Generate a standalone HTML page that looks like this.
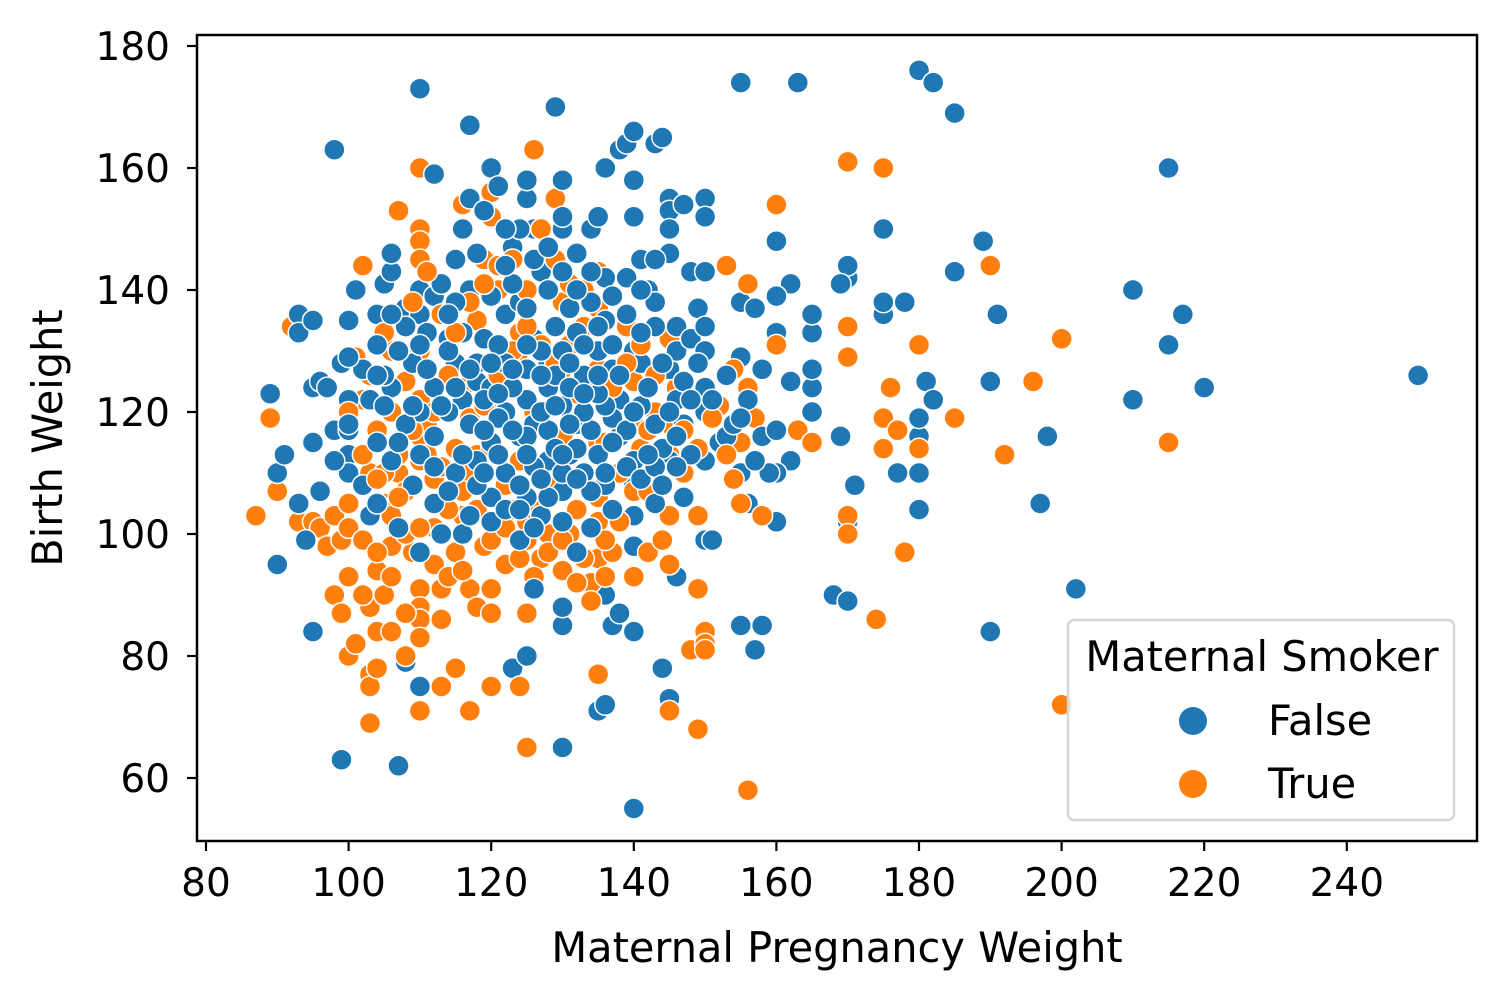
<!DOCTYPE html>
<html><head><meta charset="utf-8"><style>
html,body{margin:0;padding:0;background:#fff;}
svg{display:block;font-family:"DejaVu Sans","Liberation Sans",sans-serif;}
</style></head><body>
<svg id="chart" width="1506" height="1002" viewBox="0 0 1506 1002">
<rect x="0" y="0" width="1506" height="1002" fill="#fff"/>
<g id="points"></g>
<rect x="197" y="35" width="1280" height="806" fill="none" stroke="#000" stroke-width="2.5"/>
<g id="xticks"></g>
<g id="yticks"></g>
<text x="837" y="962" font-size="41.5" text-anchor="middle">Maternal Pregnancy Weight</text>
<text x="62" y="438" font-size="41.5" text-anchor="middle" transform="rotate(-90 62 438)">Birth Weight</text>
<g>
<rect x="1068" y="620" width="386" height="200" rx="6" fill="#fff" fill-opacity="0.8" stroke="#d6d6d6" stroke-width="2.5"/>
<text x="1262" y="671" font-size="41.5" text-anchor="middle">Maternal Smoker</text>
<g>
<circle cx="1193" cy="721" r="14" fill="#1f77b4"/>
<text x="1268" y="735" font-size="41.5">False</text></g>
<g>
<circle cx="1193" cy="784" r="14" fill="#ff7f0e"/>
<text x="1268" y="798" font-size="41.5">True</text></g>
</g>
</svg>
<script>
const xTicks=[80,100,120,140,160,180,200,220,240];
const yTicks=[60,80,100,120,140,160,180];
const falsePoints=[[110,173],[98,163],[129,170],[117,167],[155,174],[163,174],[180,176],[182,174],[185,169],[215,160],[175,150],[189,148],[185,143],[210,140],[217,136],[191,136],[215,131],[250,126],[220,124],[190,125],[181,125],[182,122],[210,122],[198,116],[197,105],[180,104],[202,91],[190,84],[168,90],[170,89],[170,102],[171,108],[177,110],[180,110],[180,116],[180,119],[175,136],[175,138],[178,138],[170,142],[170,144],[169,141],[169,116],[165,120],[165,124],[165,127],[165,133],[165,136],[162,141],[162,125],[162,112],[160,102],[160,110],[160,139],[160,148],[160,133],[158,127],[158,85],[157,81],[155,85],[155,110],[155,129],[155,138],[156,105],[144,78],[145,73],[135,71],[136,72],[140,55],[130,65],[107,62],[99,63],[90,95],[95,84],[108,79],[110,75],[123,78],[125,80],[130,85],[130,88],[136,90],[137,85],[138,87],[140,84],[146,93],[147,106],[140,98],[140,103],[140,108],[89,123],[90,110],[91,113],[93,105],[94,99],[93,136],[93,133],[95,135],[95,124],[96,125],[95,115],[98,117],[96,107],[100,135],[99,128],[100,122],[100,117],[100,113],[100,110],[102,108],[103,103],[101,140],[104,136],[105,141],[106,143],[106,146],[108,137],[110,140],[110,136],[112,139],[114,132],[115,128],[116,122],[118,125],[112,159],[117,155],[119,153],[120,160],[121,157],[123,147],[125,155],[125,158],[126,150],[127,143],[130,158],[130,150],[130,152],[132,146],[134,150],[135,152],[136,160],[138,163],[139,164],[140,166],[140,158],[140,152],[141,145],[142,140],[143,164],[144,165],[145,155],[145,153],[145,150],[145,146],[147,154],[148,143],[150,155],[150,152],[150,143],[149,137],[150,124],[150,120],[150,112],[150,99],[151,99],[152,115],[153,116],[154,118],[156,122],[157,137],[158,116],[159,110],[160,117],[120,139],[122,136],[124,138],[126,132],[128,128],[128,124],[130,121],[132,118],[134,125],[135,130],[137,127],[138,122],[140,130],[141,128],[143,134],[145,127],[146,130],[146,122],[147,118],[145,112],[143,105],[140,112],[138,116],[135,113],[133,110],[130,107],[128,112],[126,118],[124,116],[122,120],[120,124],[118,128],[116,133],[114,130],[112,124],[110,120],[108,118],[106,124],[104,115],[106,112],[109,108],[112,105],[115,110],[118,112],[120,115],[122,110],[125,106],[127,103],[130,102],[132,97],[134,101],[137,104],[136,108],[131,113],[128,117],[125,122],[122,128],[119,132],[117,140],[115,145],[113,141],[111,133],[109,128],[107,130],[105,126],[103,122],[100,118],[98,112],[120,106],[124,99],[126,91],[116,100],[113,100],[110,97],[107,101],[104,105],[130,130],[132,133],[134,138],[136,142],[131,137],[127,130],[125,127],[129,134],[133,126],[137,119],[139,117],[141,121],[143,118],[144,114],[146,116],[148,113],[125,137],[123,141],[121,131],[119,122],[117,118],[115,138],[112,116],[114,120],[116,113],[118,108],[120,102],[122,104],[124,108],[126,111],[128,106],[130,110],[132,114],[134,117],[136,121],[138,126],[140,120],[142,124],[144,128],[146,134],[148,132],[150,130],[121,119],[123,124],[125,116],[127,120],[129,126],[131,124],[133,120],[135,123],[137,131],[139,136],[141,133],[143,138],[136,135],[134,143],[132,140],[128,140],[126,145],[124,150],[122,144],[118,146],[116,150],[114,136],[110,131],[108,134],[106,136],[104,131],[102,127],[104,126],[110,113],[112,111],[114,107],[117,103],[119,110],[121,113],[123,117],[125,113],[127,109],[129,114],[131,118],[133,123],[135,126],[137,115],[139,111],[141,109],[143,111],[145,120],[147,125],[149,128],[151,122],[153,126],[155,119],[157,112],[105,121],[107,115],[109,121],[111,127],[113,121],[115,124],[117,127],[119,117],[121,123],[123,127],[125,131],[127,126],[129,121],[131,128],[133,131],[135,134],[137,139],[139,142],[141,140],[143,145],[100,129],[97,124],[120,128],[130,143],[128,147],[122,150],[136,110],[134,107],[132,109],[130,113],[126,101],[124,104],[150,134],[148,122],[146,111],[144,108],[142,113]];
const truePoints=[[87,103],[89,119],[90,107],[92,134],[93,102],[95,102],[96,101],[97,98],[98,103],[99,99],[98,90],[99,87],[100,80],[100,93],[100,105],[101,82],[101,129],[102,122],[102,144],[103,110],[103,88],[103,77],[103,75],[103,69],[104,84],[104,94],[104,104],[105,90],[105,105],[106,98],[106,130],[107,153],[107,110],[108,107],[109,97],[110,160],[110,150],[110,148],[110,145],[110,130],[110,122],[110,116],[110,112],[110,91],[110,88],[110,86],[110,83],[110,71],[111,118],[112,109],[113,91],[113,86],[113,75],[114,131],[115,97],[115,78],[116,154],[116,124],[117,71],[117,91],[117,110],[118,88],[118,113],[119,145],[120,156],[120,152],[120,114],[120,91],[120,87],[120,75],[121,120],[122,108],[123,104],[124,133],[124,130],[125,99],[125,102],[125,87],[125,65],[124,75],[126,163],[127,126],[127,96],[128,100],[129,155],[130,138],[130,127],[130,116],[130,112],[130,94],[131,100],[132,123],[133,140],[134,92],[135,143],[135,127],[135,115],[135,106],[135,102],[135,96],[135,77],[136,115],[137,97],[138,122],[139,134],[140,107],[140,118],[140,125],[141,114],[142,117],[143,120],[144,113],[145,132],[145,118],[145,113],[145,103],[145,95],[145,71],[146,124],[147,110],[148,81],[149,103],[149,91],[149,68],[150,84],[150,82],[150,81],[150,130],[150,120],[152,121],[153,144],[154,127],[154,109],[155,115],[155,105],[156,124],[156,141],[156,58],[157,119],[158,103],[160,154],[160,131],[163,117],[165,115],[170,161],[170,134],[170,129],[170,103],[170,100],[174,86],[175,160],[175,119],[175,114],[176,124],[177,117],[178,97],[180,131],[180,114],[185,119],[190,144],[192,113],[196,125],[200,132],[200,72],[215,115],[127,150],[123,145],[121,140],[118,135],[114,126],[112,120],[108,125],[106,120],[104,117],[102,113],[100,120],[124,112],[128,108],[132,104],[126,120],[138,110],[142,107],[116,103],[119,98],[122,95],[100,101],[102,99],[104,97],[106,103],[108,100],[112,101],[114,104],[116,107],[118,104],[120,99],[122,101],[126,104],[128,97],[130,99],[133,96],[136,99],[138,102],[105,110],[107,113],[109,117],[111,113],[113,111],[115,114],[117,119],[119,121],[121,126],[123,130],[125,134],[127,131],[129,128],[131,131],[133,134],[135,137],[137,124],[139,128],[141,131],[143,126],[147,117],[149,114],[151,119],[153,113],[112,95],[114,93],[116,94],[124,96],[126,93],[132,92],[134,89],[136,93],[140,93],[142,97],[144,99],[108,87],[106,93],[110,101],[104,109],[107,106],[103,126],[105,133],[109,138],[111,143],[113,136],[115,133],[117,138],[119,141],[121,144],[125,140],[129,145],[131,141],[106,84],[108,80],[102,90],[104,78]];
const X=v=>206+(v-80)*7.13;
const Y=v=>46+(180-v)*6.1;
const NS='http://www.w3.org/2000/svg';
const pts=document.getElementById('points');
function dot(p,c,nm){
 const el=document.createElementNS(NS,'circle');
 el.setAttribute('cx',X(p[0]));el.setAttribute('cy',Y(p[1]));el.setAttribute('r',10.5);
 el.setAttribute('fill',c);el.setAttribute('stroke','#fff');el.setAttribute('stroke-width',1.5);
 
 
 pts.appendChild(el);
}
const n=Math.max(falsePoints.length,truePoints.length);
for(let i=0;i<n;i++){
 if(i<falsePoints.length) dot(falsePoints[i],'#1f77b4','point-nonsmoker');
 if(i<truePoints.length) dot(truePoints[i],'#ff7f0e','point-smoker');
}
const xg=document.getElementById('xticks');
xTicks.forEach(t=>{
 const l=document.createElementNS(NS,'line');
 l.setAttribute('x1',X(t));l.setAttribute('x2',X(t));l.setAttribute('y1',841);l.setAttribute('y2',851);
 l.setAttribute('stroke','#000');l.setAttribute('stroke-width',2.2);
 
 
 xg.appendChild(l);
 const tx=document.createElementNS(NS,'text');
 tx.setAttribute('x',X(t));tx.setAttribute('y',896);tx.setAttribute('font-size',39);tx.setAttribute('text-anchor','middle');
 tx.textContent=t;
 
 
 xg.appendChild(tx);
});
const yg=document.getElementById('yticks');
yTicks.forEach(t=>{
 const l=document.createElementNS(NS,'line');
 l.setAttribute('x1',187);l.setAttribute('x2',197);l.setAttribute('y1',Y(t));l.setAttribute('y2',Y(t));
 l.setAttribute('stroke','#000');l.setAttribute('stroke-width',2.2);
 
 
 yg.appendChild(l);
 const tx=document.createElementNS(NS,'text');
 tx.setAttribute('x',170);tx.setAttribute('y',Y(t)+14);tx.setAttribute('font-size',39);tx.setAttribute('text-anchor','end');
 tx.textContent=t;
 
 
 yg.appendChild(tx);
});
</script>
</body></html>
